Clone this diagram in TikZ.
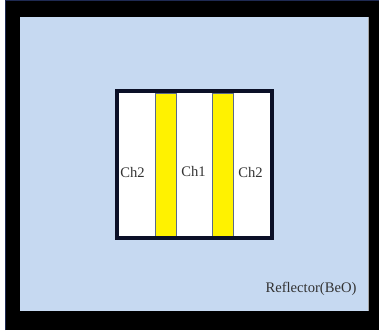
\documentclass[tikz,border=0pt]{standalone}
\usepackage{fontspec}
\setmainfont{Liberation Serif}
\definecolor{refblue}{HTML}{C6D9F1}
\definecolor{navy}{HTML}{1F2A52}
\definecolor{boxline}{HTML}{0B1027}
\definecolor{stripline}{HTML}{5A6A8A}
\begin{document}
\begin{tikzpicture}[x=1pt,y=-1pt,
  lbl/.style={font=\fontsize{14.6}{16}\selectfont, text=black!80, inner sep=0pt},
  strip/.style={fill=yellow, draw=stripline, line width=0.8pt}]
\useasboundingbox (0,0) rectangle (379,330);
\fill[white] (0,0) rectangle (379,330);
\fill[black] (5,0) rectangle (379,330);
\draw[navy, line width=1.2pt] (5.6,330) -- (5.6,0.6) -- (379,0.6);
\fill[refblue] (20,17) rectangle (368,311);
\draw[gray!70, line width=0.6pt] (368,17) -- (368,311);
% core
\fill[white] (117,91) rectangle (272,238);
\draw[strip] (155.5,93) rectangle (176.5,236);
\draw[strip] (212,93) rectangle (233,236);
\draw[boxline, line width=4pt] (117,91) rectangle (272,238);
\node[lbl] (ch2a) at (132.5,172) {Ch2};
\node[lbl] (ch1) at (193.5,171) {Ch1};
\node[lbl] (ch2b) at (250.5,172) {Ch2};
\node[lbl] (refl) at (311,289) {Reflector(BeO)};
\end{tikzpicture}
\end{document}
